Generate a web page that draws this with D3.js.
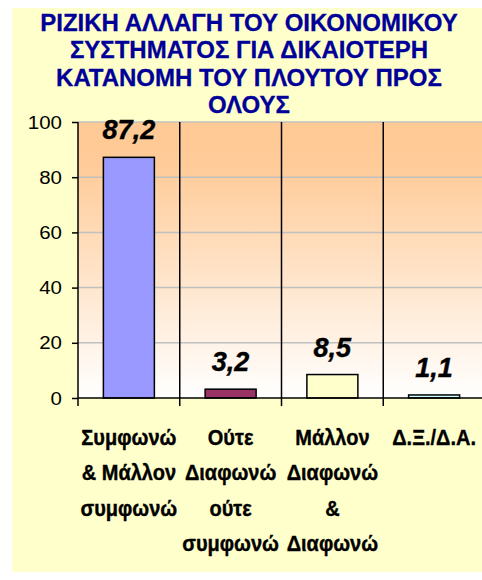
<!DOCTYPE html>
<html><head><meta charset="utf-8">
<script src="https://cdn.jsdelivr.net/npm/d3@7"></script>
<style>html,body{margin:0;padding:0;background:#fff;overflow:hidden}</style>
</head><body>
<svg id="c" width="482" height="580"></svg>
<script>
const titleLines = ["ΡΙΖΙΚΗ ΑΛΛΑΓΗ ΤΟΥ ΟΙΚΟΝΟΜΙΚΟΥ","ΣΥΣΤΗΜΑΤΟΣ ΓΙΑ ΔΙΚΑΙΟΤΕΡΗ","ΚΑΤΑΝΟΜΗ ΤΟΥ ΠΛΟΥΤΟΥ ΠΡΟΣ","ΟΛΟΥΣ"];
const categories = [
  ["Συμφωνώ","& Μάλλον","συμφωνώ"],
  ["Ούτε","Διαφωνώ","ούτε","συμφωνώ"],
  ["Μάλλον","Διαφωνώ","&","Διαφωνώ"],
  ["Δ.Ξ./Δ.Α."]
];
const values = [87.2, 3.2, 8.5, 1.1];
const valueLabels = ["87,2","3,2","8,5","1,1"];
const barColors = ["#9999FF","#993366","#FFFFCC","#CCFFFF"];
const yTicks = [0,20,40,60,80,100];

const svg = d3.select("#c");
const font = "Arial, 'Liberation Sans', sans-serif";

svg.append("rect").attr("x",12).attr("y",8).attr("width",480).attr("height",564).attr("fill","#FFFFCC");

const defs = svg.append("defs");
const grad = defs.append("linearGradient").attr("id","g").attr("x1",0).attr("y1",0).attr("x2",0).attr("y2",1);
grad.append("stop").attr("offset","0").attr("stop-color","#FFC994");
grad.append("stop").attr("offset","0.15").attr("stop-color","#FFCB98");
grad.append("stop").attr("offset","1").attr("stop-color","#FFFFFF");

const idx = d3.range(values.length);
const x = d3.scaleBand().domain(idx).range([78, 485]).paddingInner(0).paddingOuter(0);
const y = d3.scaleLinear().domain([0,100]).range([398,122]);

svg.append("rect").attr("x",78).attr("y",y(100)).attr("width",485-78).attr("height",y(0)-y(100)).attr("fill","url(#g)");

// gridlines
svg.append("g").selectAll("line").data(yTicks.filter(d=>d>0)).join("line")
  .attr("x1",78).attr("x2",485).attr("y1",d=>y(d)).attr("y2",d=>y(d))
  .attr("stroke","#C0C0C0").attr("stroke-width",1.5);

// category separators
svg.append("g").selectAll("line").data(idx.slice(1)).join("line")
  .attr("x1",d=>x(d)).attr("x2",d=>x(d)).attr("y1",y(100)).attr("y2",y(0)+8)
  .attr("stroke","#000").attr("stroke-width",1.5);

// bars
const bw = 51;
svg.append("g").selectAll("rect").data(idx).join("rect")
  .attr("x",i=>x(i)+x.bandwidth()/2-bw/2).attr("width",bw)
  .attr("y",i=>y(values[i])).attr("height",i=>y(0)-y(values[i]))
  .attr("fill",i=>barColors[i]).attr("stroke","#000").attr("stroke-width",1.5);

// y axis
const yAxis = d3.axisLeft(y).tickValues(yTicks).tickSize(6).tickPadding(10).tickFormat(d3.format("d"));
const ga = svg.append("g").attr("transform","translate(78,0)").call(yAxis);
ga.select(".domain").attr("d",`M0,${y(100)}V${y(0)+8}`).attr("stroke","#000").attr("stroke-width",1.5);
ga.selectAll(".tick line").attr("stroke","#000").attr("stroke-width",1.5);
ga.selectAll(".tick text").attr("font-family",font).attr("font-size","20.5px").attr("fill","#000")
  .attr("transform","scale(1,0.93)").attr("y",0).attr("dy","0.32em");

// x axis line
svg.append("line").attr("x1",78).attr("x2",485).attr("y1",y(0)).attr("y2",y(0)).attr("stroke","#000").attr("stroke-width",1.5);

// value labels
svg.append("g").selectAll("text").data(idx).join("text")
  .attr("x",i=>x(i)+x.bandwidth()/2).attr("y",i=>y(values[i])-18)
  .attr("text-anchor","middle").attr("font-family",font).attr("font-size","27px")
  .attr("font-weight","bold").attr("font-style","italic").attr("fill","#000")
  .attr("stroke","#000").attr("stroke-width",0.4)
  .text(i=>valueLabels[i]);

// category labels
const cg = svg.append("g").selectAll("text").data(idx).join("text")
  .attr("transform",i=>`translate(${x(i)+x.bandwidth()/2},445) scale(1,1.1)`)
  .attr("text-anchor","middle").attr("font-family",font).attr("font-size","20px")
  .attr("font-weight","bold").attr("fill","#000").attr("stroke","#000").attr("stroke-width",0.35);
cg.each(function(i){
  const t = d3.select(this);
  categories[i].forEach((ln,k)=>{
    t.append("tspan").attr("x",0).attr("y",k*35.3/1.1).text(ln);
  });
});

// title
const tt = svg.append("text").attr("text-anchor","middle").attr("font-family",font)
  .attr("font-size","24px").attr("font-weight","bold").attr("fill","#000099")
  .attr("stroke","#000099").attr("stroke-width",0.3);
titleLines.forEach((ln,k)=>{
  tt.append("tspan").attr("x",249).attr("y",31+k*27.3).text(ln);
});
</script>
</body></html>
